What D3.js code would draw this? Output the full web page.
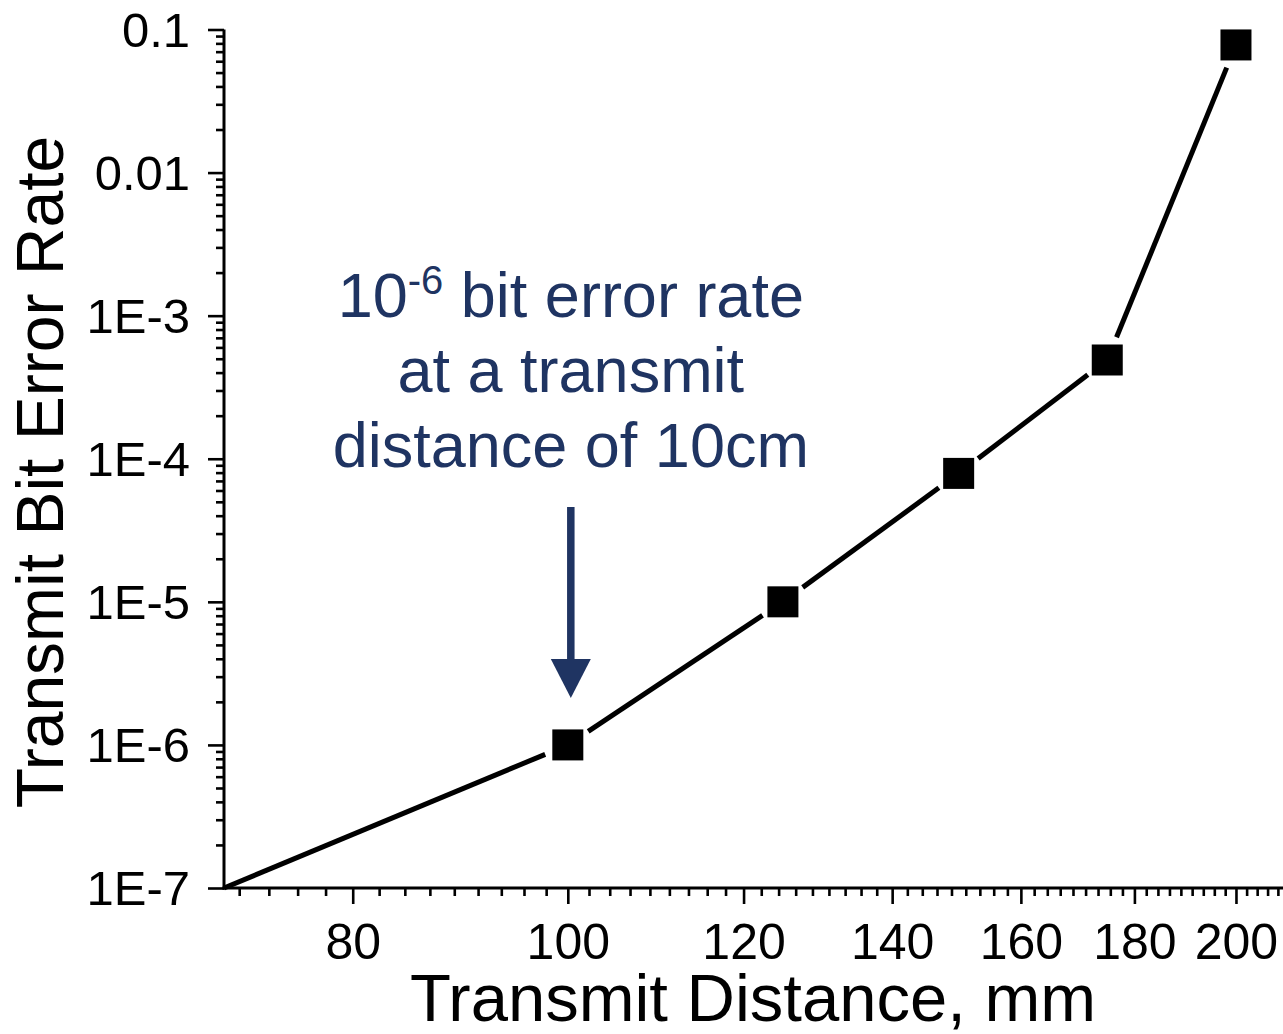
<!DOCTYPE html>
<html>
<head>
<meta charset="utf-8">
<script src="https://cdn.jsdelivr.net/npm/d3@7"></script>
<style>
  html, body { margin: 0; padding: 0; background: #fff; }
  svg { display: block; }
  text { font-family: Arial, "Liberation Sans", sans-serif; }
</style>
</head>
<body>
<svg id="chart" width="1283" height="1034"></svg>
<script>
// ---- data ----
const distance = [70, 100, 125, 150, 175, 200];          // mm
const bitErrorRate = [1e-7, 1e-6, 1e-5, 7.9e-5, 4.9e-4, 0.078];
const hasMarker = [false, true, true, true, true, true];
const xTickValues = [80, 100, 120, 140, 160, 180, 200];
const xTickLabels = ["80", "100", "120", "140", "160", "180", "200"];
const yTickValues = [1e-7, 1e-6, 1e-5, 1e-4, 1e-3, 0.01, 0.1];
const yTickLabels = ["1E-7", "1E-6", "1E-5", "1E-4", "1E-3", "0.01", "0.1"];
const xDomain = [70, 210];
const yDomain = [1e-7, 0.1];
const xTitle = "Transmit Distance, mm";
const yTitle = "Transmit Bit Error Rate";
const annotationLines = [["10", "-6", " bit error rate"], ["at a transmit"], ["distance of 10cm"]];
const annotatedDistance = 100;
const annotatedRate = 1e-6;

(function () {
// ---- layout ----
const svg = d3.select("#chart");
const pLeft = 224, pRight = 1283, pTop = 29.5, pBottom = 888;
const x = d3.scaleLog().domain(xDomain).range([pLeft, pRight]);
const y = d3.scaleLog().domain(yDomain).range([pBottom, pTop]);
const navy = "#1f3462";

// minor ticks
const xMinor = [];
const step = (xTickValues[1] - xTickValues[0]) / 9;
for (let v = xTickValues[0] - step; v > xDomain[0] + 1e-9; v -= step) xMinor.push(v);
for (let i = 0; i < xTickValues.length - 1; i++) {
  const s = (xTickValues[i + 1] - xTickValues[i]) / 9;
  for (let k = 1; k <= 8; k++) xMinor.push(xTickValues[i] + k * s);
}
const lastStep = (xTickValues[xTickValues.length - 1] - xTickValues[xTickValues.length - 2]) / 9;
for (let v = xTickValues[xTickValues.length - 1] + lastStep; v < xDomain[1]; v += lastStep) xMinor.push(v);

const yMinor = [];
for (let i = 0; i < yTickValues.length - 1; i++) {
  for (let k = 2; k <= 9; k++) yMinor.push(yTickValues[i] * k);
}

// x axis
const gx = svg.append("g").attr("transform", `translate(0,${pBottom})`);
gx.call(d3.axisBottom(x).tickValues(xMinor).tickSize(8).tickFormat(""));
gx.append("g").call(d3.axisBottom(x).tickValues(xTickValues).tickSize(16)
  .tickFormat((d, i) => xTickLabels[i]).tickPadding(8));
gx.selectAll(".domain").remove();
gx.selectAll(".tick line").attr("stroke", "#000").attr("stroke-width", 2.6);
gx.selectAll(".tick text").attr("font-size", 50).attr("fill", "#000")
  .attr("dy", null).attr("y", 70.5);
gx.append("line").attr("x1", pLeft - 1.5).attr("x2", pRight).attr("y1", 0).attr("y2", 0)
  .attr("stroke", "#000").attr("stroke-width", 3);

// y axis
const gy = svg.append("g").attr("transform", `translate(${pLeft},0)`);
gy.call(d3.axisLeft(y).tickValues(yMinor).tickSize(8).tickFormat(""));
gy.append("g").call(d3.axisLeft(y).tickValues(yTickValues).tickSize(16)
  .tickFormat((d, i) => yTickLabels[i]).tickPadding(18));
gy.selectAll(".domain").remove();
gy.selectAll(".tick line").attr("stroke", "#000").attr("stroke-width", 2.6);
gy.selectAll(".tick text").attr("font-size", 49).attr("fill", "#000")
  .attr("dy", "0.34em");
gy.append("line").attr("x1", 0).attr("x2", 0).attr("y1", pTop).attr("y2", pBottom + 1.5)
  .attr("stroke", "#000").attr("stroke-width", 3);

// data line with gaps at markers
const pts = distance.map((d, i) => ({ px: x(d), py: y(bitErrorRate[i]), m: hasMarker[i] }));
const gap = 24.5;
const segs = [];
for (let i = 0; i < pts.length - 1; i++) {
  const a = pts[i], b = pts[i + 1];
  const dx = b.px - a.px, dy = b.py - a.py, len = Math.hypot(dx, dy);
  const ux = dx / len, uy = dy / len;
  const ga = a.m ? gap : 0, gb = b.m ? gap : 0;
  segs.push([[a.px + ux * ga, a.py + uy * ga], [b.px - ux * gb, b.py - uy * gb]]);
}
svg.append("g").selectAll("path").data(segs).join("path")
  .attr("d", d => d3.line()(d))
  .attr("stroke", "#000").attr("stroke-width", 5).attr("fill", "none");

// markers
const ms = 31;
svg.append("g").selectAll("rect").data(pts.filter(p => p.m)).join("rect")
  .attr("x", p => p.px - ms / 2).attr("y", p => p.py - ms / 2)
  .attr("width", ms).attr("height", ms).attr("fill", "#000");

// axis titles
svg.append("text").attr("x", 753).attr("y", 1021).attr("text-anchor", "middle")
  .attr("font-size", 67).attr("fill", "#000").text(xTitle);
svg.append("text").attr("transform", "translate(63,472) rotate(-90)")
  .attr("text-anchor", "middle").attr("font-size", 66).attr("fill", "#000").text(yTitle);

// annotation
const ax = x(annotatedDistance) + 3;
const ann = svg.append("text").attr("text-anchor", "middle").attr("font-size", 63)
  .attr("fill", navy);
const baselines = [317, 392, 467];
annotationLines.forEach((parts, i) => {
  const t = ann.append("tspan").attr("x", ax).attr("y", baselines[i]);
  if (parts.length === 3) {
    t.append("tspan").text(parts[0]);
    t.append("tspan").attr("font-size", 40).attr("dy", -23).text(parts[1]);
    t.append("tspan").attr("dy", 23).text(parts[2]);
  } else {
    t.text(parts[0]);
  }
});
// arrow
const tipY = y(annotatedRate) - 47;
svg.append("line").attr("x1", ax).attr("x2", ax).attr("y1", 507).attr("y2", tipY - 35)
  .attr("stroke", navy).attr("stroke-width", 7.5);
svg.append("path")
  .attr("d", `M${ax - 20},${tipY - 39} L${ax + 20},${tipY - 39} L${ax},${tipY} Z`)
  .attr("fill", navy);
})();
</script>
</body>
</html>
